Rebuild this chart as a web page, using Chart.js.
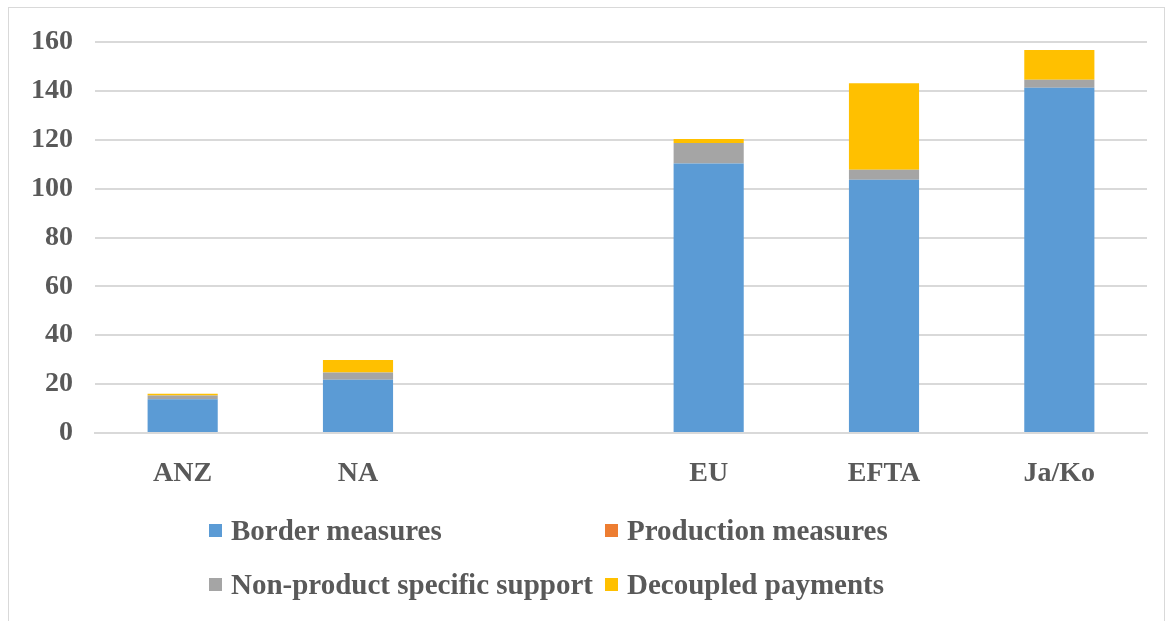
<!DOCTYPE html>
<html>
<head>
<meta charset="utf-8">
<script src="https://cdn.jsdelivr.net/npm/chart.js@4.4.1/dist/chart.umd.min.js"></script>
<style>
  body { margin: 0; background: #fff; }
  #wrap { position: relative; width: 1173px; height: 621px; }
  #frame { position: absolute; left: 8px; top: 7px; width: 1157px; height: 620px; border: 1px solid #d9d9d9; box-sizing: border-box; }
  .leg { position: absolute; font: bold 29px "Liberation Serif", "Times New Roman", serif; color: #595959; white-space: nowrap; line-height: 29px; }
  .leg span { display: inline-block; width: 13px; height: 13px; margin-right: 9px; vertical-align: 3px; }
</style>
</head>
<body>
<div id="wrap">
  <div id="frame"></div>
  <canvas id="myStackChart" width="1173" height="621"></canvas>
  <div class="leg" style="left:209px; top:516px;"><span style="background:#5b9bd5"></span>Border measures</div>
  <div class="leg" style="left:605px; top:516px;"><span style="background:#ed7d31"></span>Production measures</div>
  <div class="leg" style="left:209px; top:570px;"><span style="background:#a5a5a5"></span>Non-product specific support</div>
  <div class="leg" style="left:605px; top:570px;"><span style="background:#ffc000"></span>Decoupled payments</div>
</div>
<script>
const regions = ["ANZ", "NA", "", "EU", "EFTA", "Ja/Ko"];
const borderMeasures = [13.8, 21.8, null, 110.3, 103.6, 141.3];
const productionMeasures = [0, 0, null, 0, 0, 0];
const nonProductSupport = [1.5, 3.0, null, 8.4, 4.1, 3.3];
const decoupledPayments = [0.8, 5.1, null, 1.6, 35.4, 12.1];

const tickFont = { family: "'Liberation Serif', 'Times New Roman', serif", size: 28, weight: "bold" };

const data = {
	labels: regions,
	datasets: [
		{ label: "Border measures", data: borderMeasures, backgroundColor: "#5b9bd5" },
		{ label: "Production measures", data: productionMeasures, backgroundColor: "#ed7d31" },
		{ label: "Non-product specific support", data: nonProductSupport, backgroundColor: "#a5a5a5" },
		{ label: "Decoupled payments", data: decoupledPayments, backgroundColor: "#ffc000" },
	],
};

const config = {
	type: "bar",
	data: data,
	options: {
		responsive: false,
		animation: false,
		datasets: { bar: { barPercentage: 0.4, categoryPercentage: 1.0 } },
		layout: { padding: { top: 42, right: 26, left: 0, bottom: 0 } },
		plugins: { legend: { display: false }, tooltip: { enabled: false } },
		scales: {
			x: {
				stacked: true,
				grid: { display: false },
				border: { color: "#d9d9d9", width: 2 },
				ticks: { color: "#595959", font: tickFont, padding: 16 },
				afterFit: (scale) => { scale.height = 188; },
			},
			y: {
				stacked: true,
				min: 0,
				max: 160,
				ticks: { stepSize: 20, color: "#595959", font: tickFont, padding: 22 },
				grid: { color: "#d9d9d9", lineWidth: 2, drawTicks: false },
				border: { display: false },
				afterFit: (scale) => { scale.width = 95; },
			},
		},
	},
};

// stacked bar chart
const ctx = document.getElementById("myStackChart").getContext("2d");
new Chart(ctx, config);
</script>
</body>
</html>
